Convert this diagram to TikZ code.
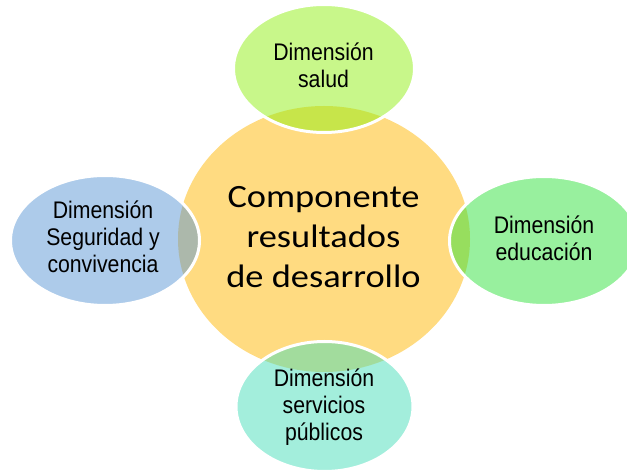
\documentclass[tikz,border=0pt]{standalone}
\usepackage{fontspec}
\usetikzlibrary{shapes.geometric}
\newfontfamily\satfont[FakeStretch=0.885]{Liberation Sans}
\newfontfamily\cenfont[FakeStretch=1.12]{Carlito}
\definecolor{cyellow}{RGB}{255,219,129}
\definecolor{ctop}{RGB}{145,239,21}
\definecolor{cleft}{RGB}{91,151,213}
\definecolor{cright}{RGB}{49,225,61}
\definecolor{cbottom}{RGB}{71,221,185}
\begin{document}
\begin{tikzpicture}[x=1pt,y=-1pt,
  core/.style={ellipse, fill=cyellow, inner sep=0pt},
  sat/.style={ellipse, draw=white, line width=3pt, fill opacity=0.5, draw opacity=1, inner sep=0pt},
  sattext/.style={font=\satfont\fontsize{24}{27}\selectfont, align=center, text=black, inner sep=0pt},
  coretext/.style={font=\cenfont\fontsize{32.5}{40}\selectfont, align=center, text=black, inner sep=0pt}]
\useasboundingbox (0,0) rectangle (627,470);
\node[core, minimum width=292pt, minimum height=266pt] (c) at (324,239) {};
\node[sat, fill=ctop, minimum width=181pt, minimum height=128pt] (top) at (324,68.5) {};
\node[sat, fill=cleft, minimum width=189pt, minimum height=130pt] (left) at (105,240.5) {};
\node[sat, fill=cright, minimum width=189pt, minimum height=129pt] (right) at (544,241) {};
\node[sat, fill=cbottom, minimum width=177pt, minimum height=130pt] (bottom) at (324.5,406.5) {};
\node[coretext] (ct) at (323.5,237.5) {Componente\\resultados\\de desarrollo};
\node[sattext] (tt) at (323.5,65) {Dimensión\\salud};
\node[sattext] (lt) at (103,236.5) {Dimensión\\Seguridad y\\convivencia};
\node[sattext] (rt) at (544,238) {Dimensión\\educación};
\node[sattext] (bt) at (324,407) {Dimensión\\servicios\\públicos};
\end{tikzpicture}
\end{document}
